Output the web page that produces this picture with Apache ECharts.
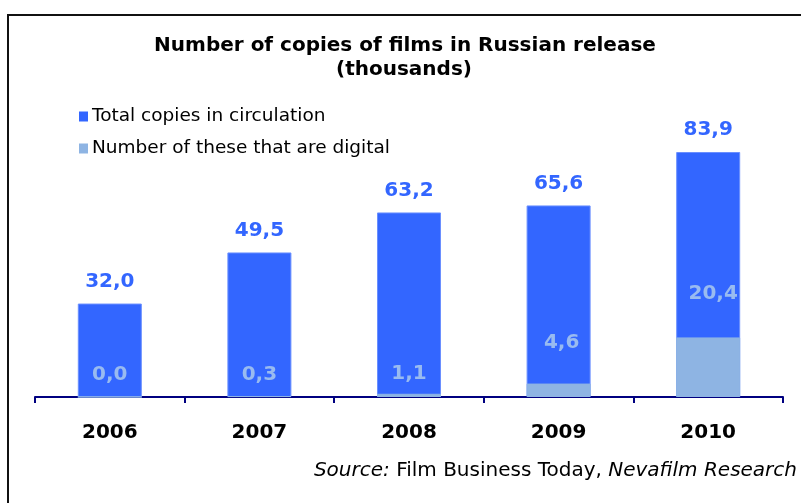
<!DOCTYPE html>
<html>
<head>
<meta charset="utf-8">
<script src="https://cdn.jsdelivr.net/npm/echarts@6/dist/echarts.min.js"></script>
<style>
  html, body { margin: 0; padding: 0; background: #fff; }
  #chart { width: 801px; height: 503px; }
</style>
</head>
<body>
<div id="chart"></div>
<script>
// Film copies in Russian release, thousands
const years = ['2006', '2007', '2008', '2009', '2010'];
const totalCopies = [32.0, 49.5, 63.2, 65.6, 83.9];
const digitalCopies = [0.0, 0.3, 1.1, 4.6, 20.4];

const seriesNames = ['Total copies in circulation', 'Number of these that are digital'];

// label placement of the digital values, [dx, dy] relative to the bar top
const digitalLabelOffsets = [[0, -12], [0, -11], [0, -10], [3, -31], [5, -34]];

const fmt = v => v.toFixed(1).replace('.', ',');

const chart = echarts.init(document.getElementById('chart'), null, { renderer: 'canvas' });

chart.setOption({
  animation: false,
  backgroundColor: '#ffffff',
  grid: { left: 35, right: 18, top: 105, bottom: 106 },
  legend: {
    orient: 'vertical',
    left: 74,
    top: 102,
    itemWidth: 9,
    itemHeight: 10,
    itemGap: 13,
    icon: 'rect',
    itemStyle: { borderWidth: 0 },
    textStyle: { fontFamily: 'DejaVu Sans', fontSize: 18.5, color: '#000', padding: [0, 0, 0, -1] },
    data: seriesNames
  },
  xAxis: {
    type: 'category',
    data: years,
    axisLine: { lineStyle: { color: '#000080', width: 2 } },
    axisTick: { show: true, length: 6, lineStyle: { color: '#000080', width: 2 } },
    axisLabel: {
      margin: 26,
      fontFamily: 'DejaVu Sans',
      fontWeight: 'bold',
      fontSize: 20,
      color: '#000'
    }
  },
  yAxis: {
    type: 'value',
    min: 0,
    max: 100,
    show: false,
    splitLine: { show: false }
  },
  series: [
    {
      name: seriesNames[0],
      type: 'bar',
      barWidth: 64,
      barGap: '-100%',
      data: totalCopies,
      itemStyle: { color: '#3366FF', borderColor: '#6A8FFF', borderWidth: 1 },
      label: {
        show: true,
        position: 'top',
        distance: 12,
        formatter: p => fmt(p.value),
        fontFamily: 'DejaVu Sans',
        fontWeight: 'bold',
        fontSize: 20,
        color: '#3366FF'
      }
    },
    {
      name: seriesNames[1],
      type: 'bar',
      barWidth: 64,
      data: digitalCopies.map((v, i) => ({
        value: v,
        label: { offset: digitalLabelOffsets[i] }
      })),
      itemStyle: { color: '#8EB4E3', borderColor: '#8EB4E3', borderWidth: 1 },
      label: {
        show: true,
        position: 'top',
        distance: 0,
        formatter: p => fmt(p.value),
        fontFamily: 'DejaVu Sans',
        fontWeight: 'bold',
        fontSize: 20,
        color: '#99BBF0'
      }
    }
  ],
  graphic: [
    {
      type: 'rect',
      shape: { x: 8, y: 15, width: 820, height: 520 },
      style: { fill: 'none', stroke: '#111', lineWidth: 2 },
      silent: true
    },
    {
      type: 'text',
      x: 405,
      y: 46,
      style: {
        text: 'Number of copies of films in Russian release',
        fontFamily: 'DejaVu Sans',
        fontWeight: 'bold',
        fontSize: 20,
        fill: '#000',
        align: 'center',
        verticalAlign: 'middle'
      }
    },
    {
      type: 'text',
      x: 404,
      y: 70,
      style: {
        text: '(thousands)',
        fontFamily: 'DejaVu Sans',
        fontWeight: 'bold',
        fontSize: 20,
        fill: '#000',
        align: 'center',
        verticalAlign: 'middle'
      }
    },
    {
      type: 'text',
      right: 4,
      top: 461,
      style: {
        text: '{i|Source:} Film Business Today, {i|Nevafilm Research}',
        fontFamily: 'DejaVu Sans',
        fontSize: 20,
        fill: '#000',
        rich: {
          i: { fontFamily: 'DejaVu Sans', fontStyle: 'italic', fontSize: 20, fill: '#000' }
        }
      }
    }
  ]
});
</script>
</body>
</html>
